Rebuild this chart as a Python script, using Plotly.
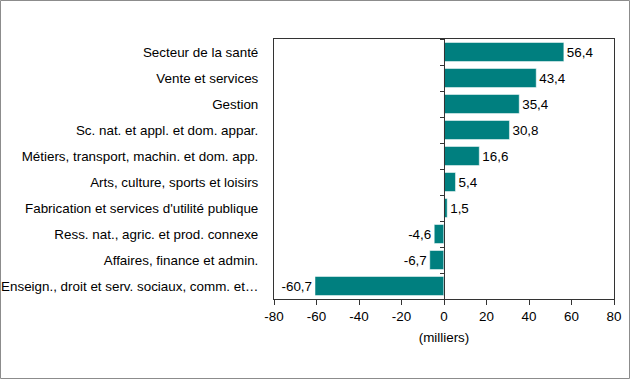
import plotly.graph_objects as go

categories = [
    "Secteur de la santé",
    "Vente et services",
    "Gestion",
    "Sc. nat. et appl. et dom. appar.",
    "Métiers, transport, machin. et dom. app.",
    "Arts, culture, sports et loisirs",
    "Fabrication et services d'utilité publique",
    "Ress. nat., agric. et prod. connexe",
    "Affaires, finance et admin.",
    "Enseign., droit et serv. sociaux, comm. et…",
]
values = [56.4, 43.4, 35.4, 30.8, 16.6, 5.4, 1.5, -4.6, -6.7, -60.7]
x_ticks = [-80, -60, -40, -20, 0, 20, 40, 60, 80]

labels = [f"{v:.1f}".replace(".", ",") for v in values]

FONT = "Liberation Sans, Arial, sans-serif"
FS = 13.4
W, H = 630, 379
ML, MR, MT, MB = 274, 16, 39, 80
PW, PH = W - ML - MR, H - MT - MB

fig = go.Figure()
fig.add_trace(go.Bar(
    y=categories, x=values, orientation="h",
    marker=dict(color="#007f7f", line=dict(color="white", width=0.5)),
    text=labels, textposition="outside", cliponaxis=False,
    textfont=dict(family=FONT, size=FS, color="black"),
    hoverinfo="skip",
))
# invisible trace for the zero-line axis with boundary ticks
fig.add_trace(go.Bar(
    y=categories, x=[0] * len(categories), orientation="h",
    yaxis="y2", marker=dict(color="rgba(0,0,0,0)"), hoverinfo="skip",
    showlegend=False,
))

fig.update_layout(
    width=W, height=H,
    margin=dict(l=ML, r=MR, t=MT, b=MB, pad=0, autoexpand=False),
    paper_bgcolor="white", plot_bgcolor="white",
    showlegend=False, bargap=0.27,
    font=dict(family=FONT, size=FS, color="black"),
    xaxis=dict(
        range=[-80, 80], tickvals=x_ticks, ticktext=[str(t) for t in x_ticks],
        showgrid=False, zeroline=False, showline=True, linecolor="#333333",
        linewidth=1, mirror=True, ticks="outside", ticklen=5, tickcolor="#333333",
        title=dict(text="(milliers)", font=dict(family=FONT, size=FS), standoff=9),
        tickfont=dict(family=FONT, size=FS, color="black"),
    ),
    yaxis=dict(
        categoryorder="array", categoryarray=categories, autorange="reversed",
        showgrid=False, zeroline=False, showline=True, linecolor="#333333",
        linewidth=1, mirror=True, ticks="", ticklabelstandoff=12,
        tickfont=dict(family=FONT, size=FS, color="black"),
    ),
    yaxis2=dict(
        overlaying="y", anchor="free", position=0.5, side="left",
        categoryorder="array", categoryarray=categories, autorange="reversed",
        showgrid=False, zeroline=False, showline=True, linecolor="#333333",
        linewidth=1, ticks="outside", ticklen=4, tickcolor="#333333",
        tickson="boundaries", showticklabels=False,
    ),
    shapes=[dict(
        type="rect", xref="paper", yref="paper",
        x0=(0.5 - ML) / PW, x1=(W - 0.5 - ML) / PW,
        y0=-(H - 0.5 - MT - PH) / PH, y1=(PH + MT - 0.5) / PH,
        line=dict(color="#8c8c8c", width=1), fillcolor="rgba(0,0,0,0)",
    )],
)

fig.write_html(
    "out.html",
    config={"displayModeBar": False},
    post_script="document.body.style.margin='0';document.body.style.overflow='hidden';",
)
